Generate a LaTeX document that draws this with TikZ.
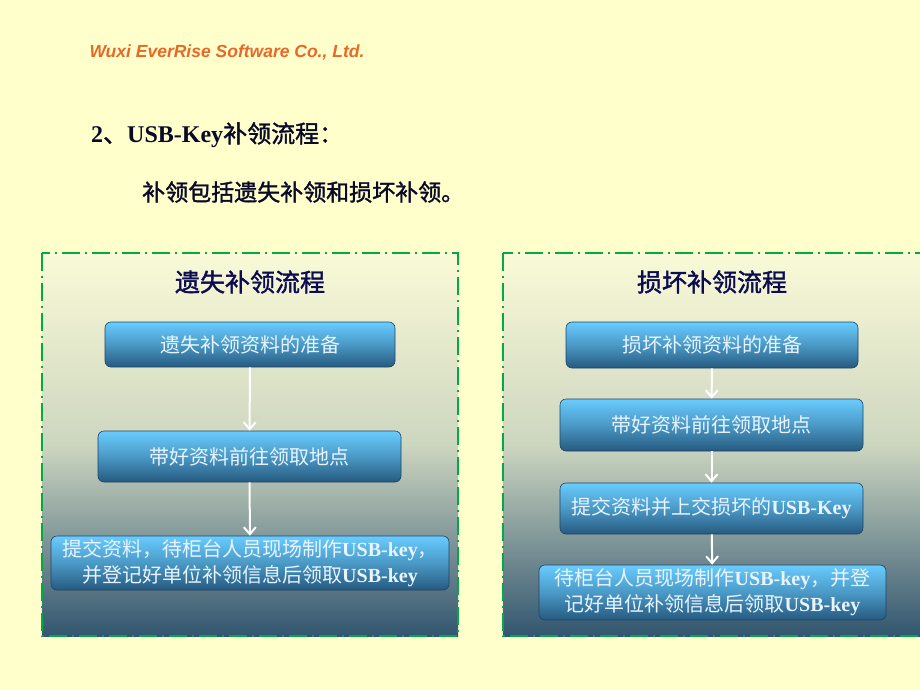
\documentclass[tikz,border=0pt]{standalone}
\usepackage{fontspec}
\setmainfont{Liberation Serif}
\setsansfont{Liberation Sans}
\newfontfamily\cjk{Noto Sans CJK SC}
\newfontfamily\cjkb{Noto Sans CJK SC}[FakeBold=1.5]
\usetikzlibrary{arrows.meta}
\definecolor{paper}{RGB}{255,255,204}
\definecolor{orangetxt}{RGB}{232,104,40}
\definecolor{navytxt}{RGB}{12,12,82}
\definecolor{headtxt}{RGB}{10,10,40}
\definecolor{framegreen}{RGB}{0,170,70}
\definecolor{boxtop}{RGB}{104,204,255}
\definecolor{boxbot}{RGB}{38,90,128}
\definecolor{boxline}{RGB}{30,68,102}
\definecolor{boxtext}{RGB}{232,244,255}
\definecolor{paneltop}{RGB}{250,250,215}
\definecolor{panelmid}{RGB}{205,214,192}
\definecolor{panelbot}{RGB}{50,86,112}
\newcommand\lat[1]{{\rmfamily\bfseries #1}}

\begin{document}
\begin{tikzpicture}[
  x=1pt,y=-1pt,
  >=Stealth,
  panel/.style={draw=framegreen,line width=1.8pt,dash pattern=on 18pt off 5pt on 2pt off 5pt,
    top color=paneltop,bottom color=panelbot,middle color=panelmid},
  paneltitle/.style={text=navytxt,font=\cjkb\fontsize{25}{30}\selectfont},
  stepbox/.style={draw=boxline,line width=0.6pt,rounded corners=6pt,
    top color=boxtop,bottom color=boxbot,middle color=boxtop!55!boxbot,
    text=boxtext,align=center,inner sep=0pt,font=\cjk\fontsize{20}{26}\selectfont},
  flow/.style={-{Straight Barb[length=7pt,width=12pt]},white,line width=2pt}
]
  \useasboundingbox (0,0) rectangle (920,690);
  \clip (0,0) rectangle (920,690);
  \fill[paper] (0,0) rectangle (920,690);

  % header
  \node[anchor=west,text=orangetxt,font=\sffamily\bfseries\itshape\fontsize{17.5}{20}\selectfont]
    (company) at (86,53) {Wuxi EverRise Software Co., Ltd.};
  \node[anchor=west,text=headtxt,inner sep=0pt,font=\fontsize{24}{28}\selectfont]
    (heading) at (91,135) {\lat{2}{\cjkb 、}\lat{USB-Key}{\cjkb 补领流程：}};
  \node[anchor=west,text=headtxt,inner sep=0pt,font=\cjkb\fontsize{23}{27}\selectfont]
    (intro) at (142,192) {补领包括遗失补领和损坏补领。};

  % panels
  \path[panel] (42,253) rectangle (458,636);
  \path[panel] (503,253) rectangle (935,636);
  \node[paneltitle] (losttitle) at (250,282) {遗失补领流程};
  \node[paneltitle] (damagetitle) at (712,282) {损坏补领流程};

  % lost key
  \node[stepbox,minimum width=290pt,minimum height=45pt] (lostA) at (250,344.5) {遗失补领资料的准备};
  \node[stepbox,minimum width=303pt,minimum height=51pt] (lostB) at (249.5,456.5) {带好资料前往领取地点};
  \node[stepbox,minimum width=398pt,minimum height=54pt] (lostC) at (250,563)
    {提交资料，待柜台人员现场制作\lat{USB-key}，\\并登记好单位补领信息后领取\lat{USB-key}};
  \draw[flow] (lostA) -- (lostB);
  \draw[flow] (lostB) -- (lostC);

  % damaged key
  \node[stepbox,minimum width=292pt,minimum height=46pt] (dmgA) at (712,345) {损坏补领资料的准备};
  \node[stepbox,minimum width=303pt,minimum height=52pt] (dmgB) at (711.5,425) {带好资料前往领取地点};
  \node[stepbox,minimum width=303pt,minimum height=51pt] (dmgC) at (711.5,508.5) {提交资料并上交损坏的\lat{USB-Key}};
  \node[stepbox,minimum width=347pt,minimum height=55pt] (dmgD) at (712.5,592.5)
    {待柜台人员现场制作\lat{USB-key}，并登\\记好单位补领信息后领取\lat{USB-key}};
  \draw[flow] (dmgA) -- (dmgB);
  \draw[flow] (dmgB) -- (dmgC);
  \draw[flow] (dmgC) -- (dmgD);
\end{tikzpicture}
\end{document}
